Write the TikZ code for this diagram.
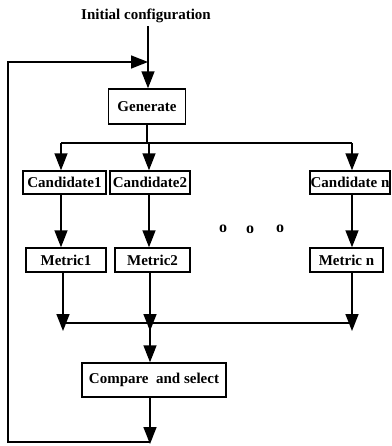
\documentclass[tikz,border=0pt]{standalone}
\usepackage{fontspec}
\setmainfont{Liberation Serif}
\usetikzlibrary{arrows.meta}
\begin{document}
\begin{tikzpicture}[x=1pt,y=-1pt,
  lbl/.style={font=\fontsize{15}{17}\selectfont\bfseries},
  box/.style={draw,line width=1.4pt,inner sep=0pt,lbl},
  conn/.style={line width=1.5pt},
  arr/.style={conn,-{Triangle[length=17pt,width=13pt]}},
  dot/.style={inner sep=0pt,font=\fontsize{16}{17}\selectfont\bfseries}
  ]
\useasboundingbox (0,0) rectangle (391,446);
\node[lbl] (init) at (146,16) {Initial configuration};
\node[box,minimum width=77pt,minimum height=35pt] (gen) at (147,106.5) {Generate};
\node[box,minimum width=83pt,minimum height=23pt] (c1) at (64.5,182.5) {Candidate1};
\node[box,minimum width=80pt,minimum height=23pt] (c2) at (150,182.5) {Candidate2};
\node[box,minimum width=80pt,minimum height=23pt] (cn) at (350,182.5) {Candidate n};
\node[box,minimum width=80pt,minimum height=24pt] (m1) at (66,260) {Metric1};
\node[box,minimum width=75pt,minimum height=24pt] (m2) at (152.5,260) {Metric2};
\node[box,minimum width=73pt,minimum height=24pt] (mn) at (346.5,260) {Metric n};
\node[box,minimum width=144pt,minimum height=34pt] (cmp) at (154,380) {Compare\ \ and select};
\node[dot] (d1) at (223,229) {o};
\node[dot] (d2) at (250,230) {o};
\node[dot] (d3) at (280,229) {o};
% coordinates
\coordinate (loopTL) at (8,62);
\coordinate (loopBL) at (8,442);
\coordinate (top) at (148,62);
\coordinate (busT) at (147,143);
\coordinate (busTL) at (61,143);
\coordinate (busTM) at (149,143);
\coordinate (busTR) at (352,143);
\coordinate (busB) at (150,323);
\coordinate (busBL) at (63,323);
\coordinate (busBR) at (352,323);
\coordinate (tL) at (63,331);
\coordinate (tM) at (150,331);
\coordinate (tR) at (352,331);
\coordinate (fin) at (150,444);
% connectors
\draw[arr] (init.south -| top) -- (gen.north -| top);
\draw[conn] (gen.south) -- (busT);
\draw[conn] (busTL) -- (busTR);
\draw[arr] (busTL) -- (busTL |- c1.north);
\draw[arr] (busTM) -- (busTM |- c2.north);
\draw[arr] (busTR) -- (busTR |- cn.north);
\draw[arr] (c1.south -| busTL) -- (m1.north -| busTL);
\draw[arr] (c2.south -| busTM) -- (m2.north -| busTM);
\draw[arr] (cn.south -| busTR) -- (mn.north -| busTR);
\draw[arr] (m1.south -| tL) -- (tL);
\draw[arr] (m2.south -| tM) -- (tM);
\draw[arr] (mn.south -| tR) -- (tR);
\draw[conn] (busBL) -- (busBR);
\draw[arr] (busB) -- (cmp.north -| busB);
\draw[arr] (cmp.south -| fin) -- (fin);
\draw[arr] (fin |- loopBL) -- (loopBL) -- (loopTL) -- (top);
\end{tikzpicture}
\end{document}
